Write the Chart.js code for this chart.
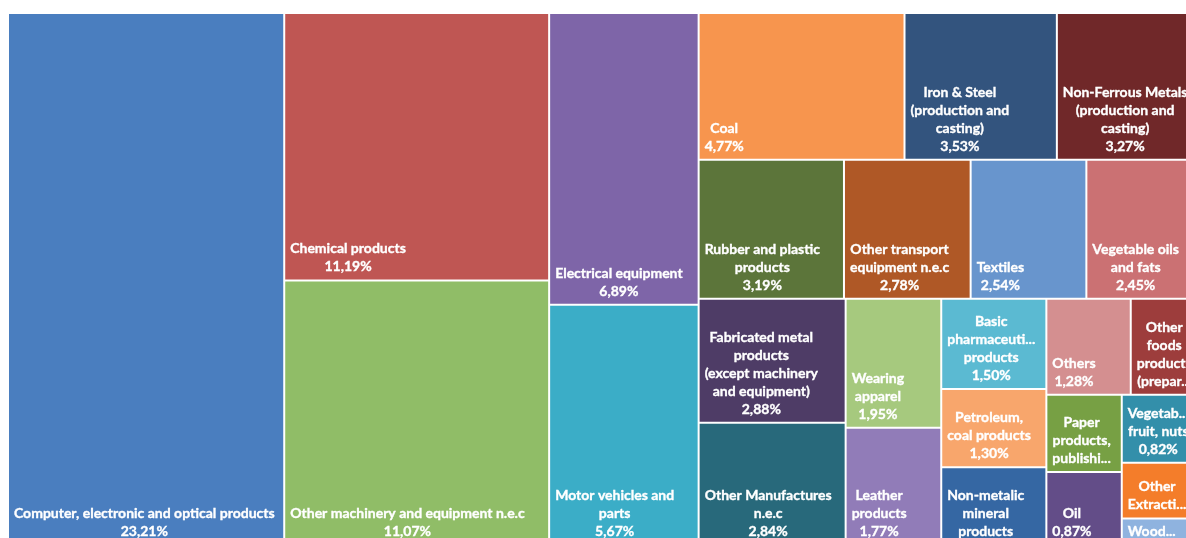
<!DOCTYPE html>
<html>
<head>
<meta charset="utf-8">
<title>Imports by sector</title>
<script src="https://cdn.jsdelivr.net/npm/chart.js@4.4.1/dist/chart.umd.min.js"></script>
<style>
    html, body { margin: 0; padding: 0; overflow: hidden; background: #ffffff; }
    #wrap { position: absolute; left: 0; top: 0; width: 1210px; height: 560px; }
</style>
</head>
<body>
<div id="wrap"><canvas id="sectors" width="1210" height="560"></canvas></div>
<script>
var sectors = [
    'Computer, electronic and optical products',
    'Chemical products',
    'Other machinery and equipment n.e.c',
    'Electrical equipment',
    'Motor vehicles and parts',
    'Coal',
    'Iron & Steel (production and casting)',
    'Non-Ferrous Metals (production and casting)',
    'Rubber and plastic products',
    'Other transport equipment n.e.c',
    'Textiles',
    'Vegetable oils and fats',
    'Fabricated metal products (except machinery and equipment)',
    'Other Manufactures n.e.c',
    'Wearing apparel',
    'Leather products',
    'Basic pharmaceutical products',
    'Petroleum, coal products',
    'Non-metalic mineral products',
    'Others',
    'Other foods products (preparations)',
    'Paper products, publishing and printing',
    'Oil',
    'Vegetables, fruit, nuts',
    'Other Extraction',
    'Wood and products of wood'
];

// share of total, %
var shares = [23.21, 11.19, 11.07, 6.89, 5.67, 4.77, 3.53, 3.27, 3.19, 2.78, 2.54, 2.45, 2.88,
              2.84, 1.95, 1.77, 1.50, 1.30, 1.29, 1.28, 1.02, 0.92, 0.87, 0.82, 0.67, 0.32];

var colors = ['#4A7EBF', '#BF5653', '#90BD67', '#7E65A8', '#3BADC7', '#F7954E', '#33547E',
              '#702829', '#5C753A', '#AF5826', '#6895CD', '#CB7173', '#4E3C66', '#28697B',
              '#A6C97E', '#917CB8', '#5BBAD2', '#F8A66C', '#3567A3', '#D48F90', '#9D3D3C',
              '#77A044', '#634D88', '#338FAA', '#F47D2A', '#8FB3DF'];

//
// Strip layout: tiles go in strips across the shorter side of the free area.
// A strip grows while no tile gets wider than MAX_WIDE (columns) or taller
// than MAX_TALL (rows). When the free area is close to square, the previous
// direction is kept if it packs more tiles into the next strip.
//
var MAX_WIDE = 1.375, MAX_TALL = 1.6, KEEP_DIR = 1.5;

function stripCount(vals, start, k, side, vertical) {
    var limit = vertical ? MAX_WIDE : MAX_TALL;
    var sum = vals[start], n = 1;
    while (start + n < vals.length) {
        var s = sum + vals[start + n];
        var thick = s * k / side;
        var ok = true;
        for (var j = start; j <= start + n; j++) {
            if (thick / (side * vals[j] / s) > limit) { ok = false; break; }
        }
        if (!ok) break;
        sum = s;
        n++;
    }
    return n;
}

function layoutTiles(vals, w, h) {
    var total = vals.reduce(function (a, b) { return a + b; }, 0);
    var k = w * h / total;
    var x = 0, y = 0, fw = w, fh = h;
    var tiles = [], i = 0, prev = null;

    while (i < vals.length) {
        var vertical = fw >= fh;
        if (prev !== null && prev !== vertical && Math.max(fw, fh) / Math.min(fw, fh) < KEEP_DIR) {
            var kept = stripCount(vals, i, k, prev ? fh : fw, prev);
            if (kept > stripCount(vals, i, k, vertical ? fh : fw, vertical)) vertical = prev;
        }
        var side = vertical ? fh : fw;
        var n = stripCount(vals, i, k, side, vertical);
        var sum = 0, j;
        for (j = i; j < i + n; j++) sum += vals[j];
        var thick = sum * k / side;
        var pos = vertical ? y : x;
        for (j = i; j < i + n; j++) {
            var len = side * vals[j] / sum;
            if (vertical) tiles.push({x0: x, x1: x + thick, y0: pos, y1: pos + len});
            else tiles.push({x0: pos, x1: pos + len, y0: y, y1: y + thick});
            pos += len;
        }
        if (vertical) { x += thick; fw -= thick; } else { y += thick; fh -= thick; }
        prev = vertical;
        i += n;
    }
    return tiles;
}

// Dataset controller drawing each tile as a bar element placed on the x/y scales
class TreemapController extends Chart.DatasetController {
    update(mode) {
        var meta = this._cachedMeta;
        this.updateElements(meta.data, 0, meta.data.length, mode);
    }

    updateElements(rects, start, count, mode) {
        var xScale = this._cachedMeta.xScale, yScale = this._cachedMeta.yScale;
        var aspect = xScale.width / yScale.height;
        var tiles = layoutTiles(this.getDataset().data, 100 * aspect, 100);

        for (var i = start; i < start + count; i++) {
            var t = tiles[i];
            var left = xScale.getPixelForValue(t.x0 / aspect);
            var right = xScale.getPixelForValue(t.x1 / aspect);
            var top = yScale.getPixelForValue(t.y0);
            var bottom = yScale.getPixelForValue(t.y1);
            this.updateElement(rects[i], i, {
                x: (left + right) / 2,
                y: top,
                base: bottom,
                width: right - left,
                height: bottom - top,
                horizontal: false,
                borderSkipped: {},
                inflateAmount: 0,
                options: this.resolveDataElementOptions(i, mode)
            }, mode);
        }
    }
}
TreemapController.id = 'treemap';
TreemapController.defaults = {datasetElementType: false, dataElementType: 'bar'};
Chart.register(TreemapController);

//
// Tile labels: name wrapped to the tile, share underneath, block sits bottom-left
//
var FONT = 'bold 14px Lato, "Open Sans", sans-serif';
var LINE_H = 18, PAD_X = 6, PAD_Y = 8, BOTTOM = 13.5;

function fits(ctx, text, maxW) {
    return ctx.measureText(text).width <= maxW;
}

function ellipsis(ctx, text, maxW) {
    while (text.length > 1 && !fits(ctx, text + '...', maxW)) text = text.slice(0, -1);
    return text + '...';
}

function wrapLabel(ctx, text, maxW) {
    var lines = [], line = '';
    text.split(' ').forEach(function (word) {
        if (line && (word.charAt(0) === '(' || !fits(ctx, line + ' ' + word, maxW))) {
            lines.push(line);
            line = word;
        } else {
            line = line ? line + ' ' + word : word;
        }
    });
    if (line) lines.push(line);
    return lines.map(function (l) {
        return fits(ctx, l, maxW) ? l : ellipsis(ctx, l, maxW);
    });
}

function cutLines(ctx, lines, room, maxW) {
    if (lines.length <= room) return lines;
    lines = lines.slice(0, room);
    var last = lines[room - 1];
    if (last.slice(-3) !== '...') {
        var words = last.split(' ');
        while (words.length > 1 && !fits(ctx, words.join(' ') + '...', maxW)) words.pop();
        lines[room - 1] = ellipsis(ctx, words.join(' '), maxW);
    }
    return lines;
}

var tileLabels = {
    id: 'tileLabels',
    afterDatasetsDraw: function (chart) {
        var ctx = chart.ctx;
        var meta = chart.getDatasetMeta(0);
        ctx.save();
        ctx.font = FONT;
        ctx.fillStyle = '#ffffff';
        ctx.strokeStyle = '#ffffff';
        ctx.lineWidth = 0.35;
        ctx.textAlign = 'center';
        ctx.textBaseline = 'middle';

        meta.data.forEach(function (rect, i) {
            var left = rect.x - rect.width / 2, top = rect.y;
            var h = rect.base - rect.y;
            var maxW = rect.width - 2 * PAD_X;
            var room = Math.floor((h - PAD_Y) / LINE_H);
            if (room < 1 || maxW < 10) return;

            var lines = wrapLabel(ctx, sectors[i], maxW);
            if (lines.length < room) lines.push(shares[i].toFixed(2).replace('.', ',') + '%');
            lines = cutLines(ctx, lines, room, maxW);

            var blockW = Math.max.apply(null, lines.map(function (l) { return ctx.measureText(l).width; }));
            var cx = left + PAD_X + blockW / 2;

            ctx.save();
            ctx.beginPath();
            ctx.rect(left, top, rect.width, h);
            ctx.clip();
            lines.forEach(function (l, n) {
                var ly = rect.base - BOTTOM - (lines.length - 1 - n) * LINE_H;
                ctx.fillText(l, cx, ly);
                ctx.strokeText(l, cx, ly);
            });
            ctx.restore();
        });
        ctx.restore();
    }
};

new Chart(document.getElementById('sectors').getContext('2d'), {
    type: 'treemap',
    data: {
        labels: sectors,
        datasets: [{
            label: 'Share of imports',
            data: shares,
            backgroundColor: colors,
            borderColor: '#ffffff',
            borderWidth: 1
        }]
    },
    options: {
        responsive: false,
        animation: false,
        events: [],
        layout: {
            padding: {left: 8, top: 13, right: 12, bottom: 15}
        },
        scales: {
            x: {type: 'linear', min: 0, max: 100, display: false},
            y: {type: 'linear', min: 0, max: 100, reverse: true, display: false}
        },
        plugins: {
            legend: {display: false},
            title: {display: false},
            tooltip: {enabled: false}
        }
    },
    plugins: [tileLabels]
});
</script>
</body>
</html>
